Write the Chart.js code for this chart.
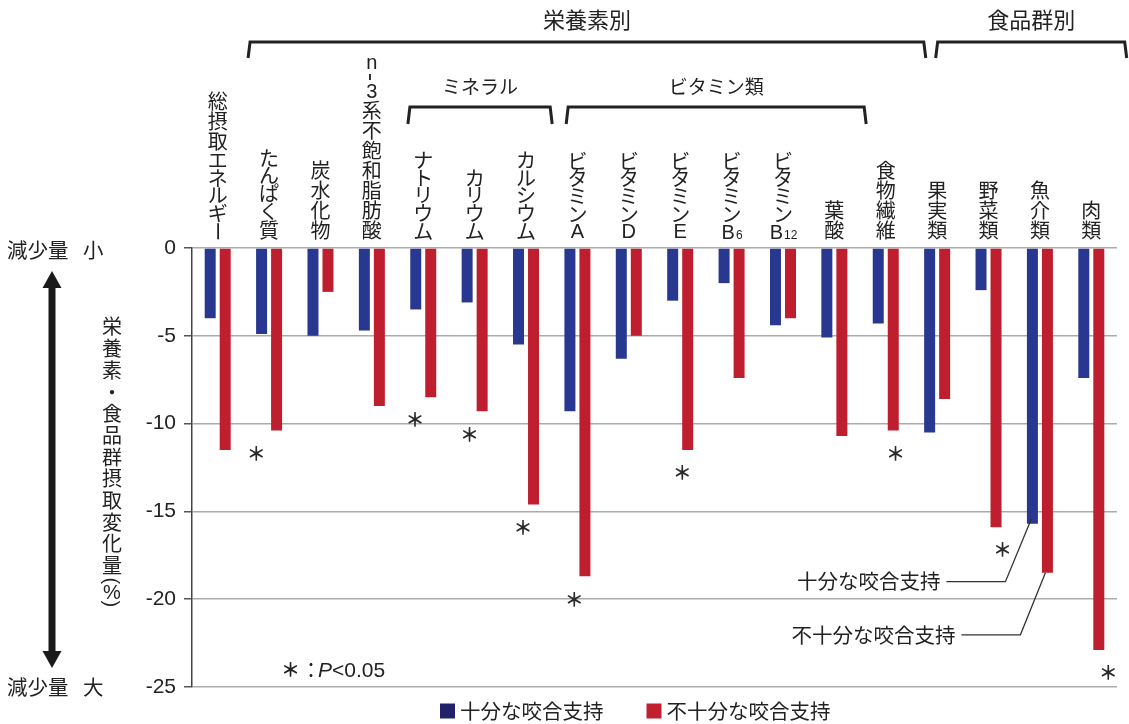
<!DOCTYPE html>
<html><head><meta charset="utf-8">
<script src="https://cdn.jsdelivr.net/npm/chart.js@4.4.1/dist/chart.umd.min.js"></script>
<style>html,body{margin:0;padding:0;background:#fff}canvas{display:block}</style>
</head><body>
<canvas id="c" width="1129" height="724"></canvas>
<script>
// ---- data ----
const categories = ['総摂取エネルギー','たんぱく質','炭水化物','n-3系不飽和脂肪酸','ナトリウム','カリウム','カルシウム','ビタミンA','ビタミンD','ビタミンE','ビタミンB6','ビタミンB12','葉酸','食物繊維','果実類','野菜類','魚介類','肉類'];
const sufficientSupport   = [-4.0,-4.9,-5.0,-4.7,-3.5,-3.1,-5.5,-9.3,-6.3,-3.0,-2.0,-4.4,-5.1,-4.3,-10.5,-2.4,-15.7,-7.4];
const insufficientSupport = [-11.5,-10.4,-2.5,-9.0,-8.5,-9.3,-14.6,-18.7,-5.0,-11.5,-7.4,-4.0,-10.7,-10.4,-8.6,-15.9,-18.5,-22.9];
const significant = [false,true,false,false,true,true,true,true,false,true,false,false,false,true,false,true,false,true];
const seriesNames = ['十分な咬合支持','不十分な咬合支持'];
const yMin = -25, yMax = 0, yStep = 5;
const groupLabels = ['栄養素別','食品群別'];
const subGroupLabels = ['ミネラル','ビタミン類'];
const yTitle = '栄養素・食品群摂取変化量(%)';
const sigNote = 'P<0.05';

// ---- styling / layout ----
const JP = '"Noto Sans CJK JP", "Noto Sans CJK SC", sans-serif';
const LAT = '"Liberation Sans", Arial, sans-serif';
const BLUE = '#283891', RED = '#be1e2d';
const TEXT = '#222';
const groupSpans = [[0.63,13.74],[14.01,17.65]];
const subGroupSpans = [[3.74,6.47],[6.82,12.58]];
const starDx = [0,-0.25,0,0,-0.16,-0.1,-0.06,-0.06,0,0.04,0,0,0,0.19,0,0.27,0,0.33];

function vClass(ch){
  if (/[\u4e00-\u9fff]/.test(ch)) return 'kanji';
  if (/[\u3040-\u30ff]/.test(ch)) return 'kana';
  if (ch==='('||ch===')') return 'paren';
  if (ch==='-') return 'dash';
  return 'latin';
}
function tokenize(str){
  const out=[];
  for (let i=0;i<str.length;i++){
    const c=str[i];
    if (c==='B' && /\d/.test(str[i+1]||'')){
      let j=i+1, sub='';
      while(j<str.length && /\d/.test(str[j])) sub+=str[j++];
      out.push({t:'B',sub,cls:'latin'}); i=j-1;
    } else out.push({t:c,cls:vClass(c)});
  }
  return out;
}
function drawVText(ctx,str,cx,anchorY,anchor,pitch,fs){
  const toks=tokenize(str);
  const hs=toks.map(t=>pitch[t.cls]);
  const total=hs.reduce((a,b)=>a+b,0);
  let y = anchor==='bottom' ? anchorY-total : anchorY;
  ctx.save();
  ctx.fillStyle=TEXT; ctx.textAlign='center'; ctx.textBaseline='middle';
  toks.forEach((t,k)=>{
    const cy=y+hs[k]/2;
    if (t.sub){
      ctx.font=`${fs}px ${LAT}`; const wB=ctx.measureText('B').width;
      ctx.font=`${Math.round(fs*0.6)}px ${LAT}`; const wS=ctx.measureText(t.sub).width;
      const x0=cx-(wB+wS)/2; const base=cy+fs*0.36;
      ctx.textAlign='left'; ctx.textBaseline='alphabetic';
      ctx.font=`${fs}px ${LAT}`; ctx.fillText('B',x0,base);
      ctx.font=`${Math.round(fs*0.6)}px ${LAT}`; ctx.fillText(t.sub,x0+wB+1,base);
      ctx.textAlign='center'; ctx.textBaseline='middle';
    } else if (t.cls==='dash'){
      ctx.save(); ctx.translate(cx,cy); ctx.rotate(Math.PI/2);
      ctx.font=`24px ${LAT}`; ctx.fillText(t.t,0,1);
      ctx.restore();
    } else if (t.cls==='paren' || t.t==='ー'){
      ctx.save(); ctx.translate(cx,cy); ctx.rotate(Math.PI/2);
      ctx.font=`${fs}px ${t.t==='ー'?JP:LAT}`;
      ctx.fillText(t.t,0,t.t==='ー'?0:1);
      ctx.restore();
    } else if (t.cls==='latin'){
      ctx.font=`${fs}px ${LAT}`; ctx.fillText(t.t,cx,cy+1);
    } else {
      ctx.font=`${fs}px ${JP}`; ctx.fillText(t.t,cx,cy);
    }
    y+=hs[k];
  });
  ctx.restore();
}
function bracket(ctx,x1,x2,yT,yB){
  ctx.beginPath(); ctx.moveTo(x1-2,yB); ctx.lineTo(x1,yT); ctx.lineTo(x2,yT); ctx.lineTo(x2+2,yB); ctx.stroke();
}

const annot = {
  id:'annot',
  afterDraw(chart){
    const ctx=chart.ctx, xs=chart.scales.x, ys=chart.scales.y, ca=chart.chartArea;
    const px=v=>xs.getPixelForValue(v);
    // category labels (vertical)
    const lp={kanji:20,kana:17.7,latin:17,dash:12,paren:9};
    categories.forEach((c,i)=>drawVText(ctx,c,px(i),ca.top-8,'bottom',lp,20));
    // brackets
    ctx.save(); ctx.strokeStyle=TEXT; ctx.lineWidth=3; ctx.lineJoin='miter';
    groupSpans.forEach((s,i)=>{
      const x1=px(s[0]), x2=px(s[1]);
      bracket(ctx,x1,x2,42,58);
      ctx.fillStyle=TEXT; ctx.font=`22px ${JP}`; ctx.textAlign='center'; ctx.textBaseline='middle';
      ctx.fillText(groupLabels[i],(x1+x2)/2,20);
    });
    subGroupSpans.forEach((s,i)=>{
      const x1=px(s[0]), x2=px(s[1]);
      bracket(ctx,x1,x2,107,124);
      ctx.fillStyle=TEXT; ctx.font=`19px ${JP}`; ctx.textAlign='center'; ctx.textBaseline='middle';
      ctx.fillText(subGroupLabels[i],(x1+x2)/2,87);
    });
    ctx.restore();
    // significance stars
    const m1=chart.getDatasetMeta(1);
    const STAR=`bold 19px ${JP}`;
    ctx.save(); ctx.fillStyle='#2a2a2a'; ctx.font=STAR; ctx.textAlign='center'; ctx.textBaseline='middle';
    significant.forEach((s,i)=>{
      if(!s) return;
      const bar=m1.data[i];
      ctx.fillText('＊',px(i+starDx[i]),bar.y+23);
    });
    ctx.restore();
    // leader labels on 魚介類
    const m0=chart.getDatasetMeta(0);
    const b0=m0.data[16], b1=m1.data[16];
    ctx.save(); ctx.strokeStyle='#333'; ctx.lineWidth=1.3; ctx.fillStyle=TEXT;
    ctx.font=`20.5px ${JP}`; ctx.textAlign='right'; ctx.textBaseline='middle';
    ctx.beginPath(); ctx.moveTo(b0.x-86,b0.y+58); ctx.lineTo(b0.x-27,b0.y+58); ctx.lineTo(b0.x-1,b0.y-5); ctx.stroke();
    ctx.fillText(seriesNames[0],b0.x-92,b0.y+58);
    ctx.beginPath(); ctx.moveTo(b1.x-86,b1.y+62); ctx.lineTo(b1.x-27,b1.y+62); ctx.lineTo(b1.x-2,b1.y); ctx.stroke();
    ctx.fillText(seriesNames[1],b1.x-92,b1.y+62);
    ctx.restore();
    // P note
    ctx.save(); ctx.fillStyle=TEXT; ctx.textBaseline='middle'; ctx.textAlign='left';
    let x=281; const yN=670;
    ctx.font=STAR; ctx.fillText('＊',x,yN); x+=ctx.measureText('＊').width;
    ctx.font=`20px ${JP}`; ctx.fillText('：',x+1,yN); x+=ctx.measureText('：').width-2;
    ctx.font=`italic 21px ${LAT}`; ctx.fillText(sigNote[0],x,yN+1); x+=ctx.measureText(sigNote[0]).width;
    ctx.font=`21px ${LAT}`; ctx.fillText(sigNote.slice(1),x,yN+1);
    ctx.restore();
    // left side: arrow & texts
    ctx.save(); ctx.fillStyle='#1a1a1a';
    const ax=52, aT=271, aB=668;
    ctx.fillRect(ax-3.5,aT+14,7,aB-aT-28);
    ctx.beginPath(); ctx.moveTo(ax,aT); ctx.lineTo(ax+9.5,aT+17); ctx.lineTo(ax-9.5,aT+17); ctx.closePath(); ctx.fill();
    ctx.beginPath(); ctx.moveTo(ax,aB); ctx.lineTo(ax+9.5,aB-17); ctx.lineTo(ax-9.5,aB-17); ctx.closePath(); ctx.fill();
    ctx.fillStyle=TEXT; ctx.font=`20.5px ${JP}`; ctx.textAlign='left'; ctx.textBaseline='middle';
    ctx.fillText('減少量',7,ys.getPixelForValue(yMax)+2); ctx.fillText('小',83,ys.getPixelForValue(yMax)+2);
    ctx.fillText('減少量',7,ys.getPixelForValue(yMin)); ctx.fillText('大',83,ys.getPixelForValue(yMin));
    ctx.restore();
    drawVText(ctx,yTitle,112,316,'top',{kanji:21.7,kana:21.7,latin:14,dash:12,paren:9},20);
    // legend
    ctx.save(); ctx.textBaseline='middle'; ctx.textAlign='left'; ctx.font=`20.5px ${JP}`;
    const legColors=['#21226a','#c1202f'];
    let lx=440; const ly=711;
    seriesNames.forEach((n,i)=>{
      ctx.fillStyle=legColors[i]; ctx.fillRect(lx,ly-7.5,15,15);
      lx+=15+5; ctx.fillStyle=TEXT; ctx.fillText(n,lx,ly);
      lx+=ctx.measureText(n).width+43;
    });
    ctx.restore();
  }
};

new Chart(document.getElementById('c'),{
  type:'bar',
  data:{
    labels:categories,
    datasets:[
      {label:seriesNames[0],data:sufficientSupport,backgroundColor:BLUE,categoryPercentage:0.584,barPercentage:0.733},
      {label:seriesNames[1],data:insufficientSupport,backgroundColor:RED,categoryPercentage:0.584,barPercentage:0.733}
    ]
  },
  options:{
    responsive:false, animation:false, devicePixelRatio:1,
    layout:{padding:{top:248,right:12,bottom:37,left:0}},
    plugins:{legend:{display:false},tooltip:{enabled:false}},
    scales:{
      x:{display:false},
      y:{
        min:yMin,max:yMax,
        ticks:{stepSize:yStep,color:TEXT,padding:8,font:{family:'"Liberation Sans", Arial, sans-serif',size:21}},
        grid:{color:'#ababab',lineWidth:1.5,tickLength:8,tickColor:'#555'},
        border:{color:'#444',width:1.5},
        afterFit(scale){scale.width=192;}
      }
    }
  },
  plugins:[annot]
});
</script>
</body></html>
